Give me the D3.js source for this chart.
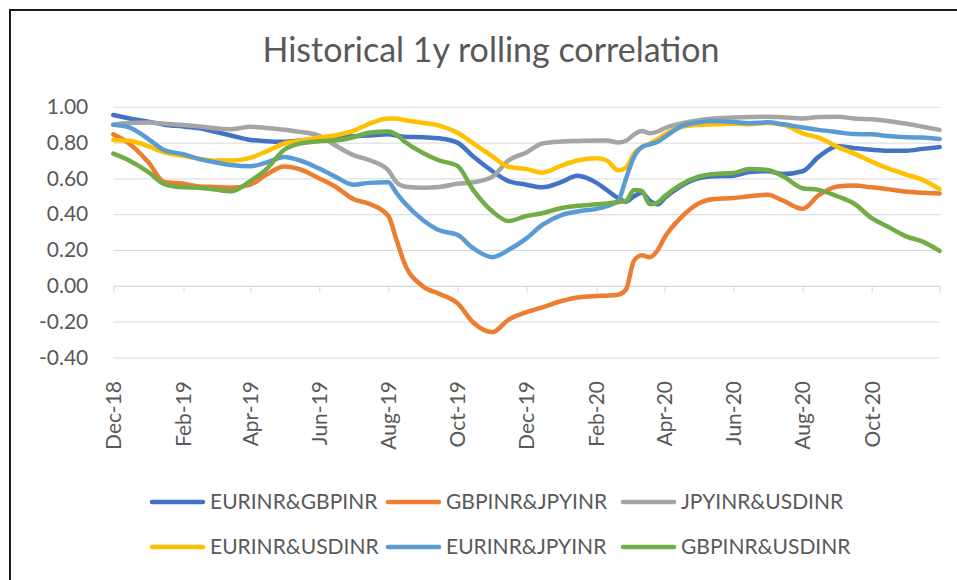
<!DOCTYPE html>
<html>
<head>
<meta charset="utf-8">
<script src="https://cdn.jsdelivr.net/npm/d3@7"></script>
<style>
  body { margin: 0; background: #fff; }
  text { font-family: Lato, "Open Sans", sans-serif; fill: #595959; }
</style>
</head>
<body>
<svg width="957" height="580"></svg>
<script>
// dates of the samples
var dates = ["2018-12-01","2018-12-15","2019-01-01","2019-01-15","2019-02-01","2019-02-15","2019-03-01","2019-03-15",
  "2019-04-01","2019-04-15","2019-05-01","2019-05-15","2019-06-01","2019-06-15","2019-07-01","2019-07-15",
  "2019-08-01","2019-08-08","2019-08-15","2019-09-01","2019-09-15","2019-10-01","2019-10-15","2019-11-01",
  "2019-11-15","2019-12-01","2019-12-15","2020-01-01","2020-01-15","2020-02-01","2020-02-10","2020-02-20",
  "2020-02-27","2020-03-05","2020-03-12","2020-03-19","2020-03-26","2020-04-01","2020-04-15","2020-05-01",
  "2020-05-15","2020-06-01","2020-06-15","2020-07-01","2020-07-15","2020-08-01","2020-08-15","2020-09-01",
  "2020-09-15","2020-10-01","2020-10-15","2020-11-01","2020-11-15","2020-11-30"];

var eurGbp = [0.954,0.935,0.917,0.90,0.89,0.88,0.86,0.84,0.815,0.808,0.805,0.812,0.82,0.832,0.835,0.84,
  0.847,0.84,0.833,0.83,0.824,0.80,0.722,0.64,0.585,0.565,0.55,0.58,0.615,0.575,0.535,0.49,
  0.47,0.50,0.52,0.475,0.455,0.49,0.555,0.60,0.612,0.615,0.635,0.64,0.625,0.64,0.72,0.78,
  0.77,0.76,0.755,0.755,0.765,0.775];
var gbpJpy = [0.846,0.795,0.69,0.58,0.57,0.555,0.552,0.548,0.565,0.62,0.666,0.65,0.60,0.555,0.485,0.458,
  0.39,0.26,0.13,-0.005,-0.045,-0.097,-0.205,-0.259,-0.19,-0.147,-0.12,-0.085,-0.065,-0.057,-0.055,-0.05,
  -0.02,0.14,0.17,0.16,0.20,0.27,0.378,0.46,0.485,0.49,0.50,0.508,0.475,0.43,0.505,0.555,
  0.56,0.55,0.54,0.525,0.52,0.515];
var jpyUsd = [0.90,0.91,0.912,0.906,0.898,0.89,0.88,0.875,0.888,0.882,0.872,0.86,0.838,0.785,0.73,0.703,
  0.645,0.58,0.555,0.548,0.552,0.57,0.578,0.61,0.70,0.745,0.795,0.806,0.809,0.812,0.812,0.80,
  0.81,0.845,0.865,0.852,0.862,0.88,0.905,0.925,0.935,0.94,0.943,0.945,0.941,0.935,0.943,0.945,
  0.935,0.93,0.921,0.905,0.889,0.871];
var eurUsd = [0.815,0.81,0.78,0.745,0.725,0.71,0.70,0.70,0.715,0.75,0.795,0.81,0.828,0.84,0.865,0.905,
  0.935,0.935,0.926,0.91,0.895,0.855,0.796,0.722,0.665,0.652,0.632,0.672,0.70,0.712,0.70,0.645,
  0.66,0.74,0.775,0.795,0.82,0.845,0.885,0.899,0.902,0.905,0.902,0.91,0.90,0.852,0.828,0.775,
  0.74,0.694,0.657,0.62,0.592,0.54];
var eurJpy = [0.90,0.885,0.82,0.758,0.735,0.708,0.69,0.675,0.668,0.688,0.72,0.70,0.655,0.61,0.565,0.575,
  0.578,0.52,0.465,0.365,0.31,0.285,0.21,0.16,0.20,0.265,0.34,0.395,0.415,0.43,0.445,0.475,
  0.60,0.72,0.775,0.79,0.805,0.83,0.889,0.913,0.921,0.915,0.908,0.913,0.902,0.884,0.871,0.858,
  0.848,0.846,0.837,0.83,0.828,0.82];
var gbpUsd = [0.738,0.70,0.635,0.568,0.55,0.548,0.538,0.528,0.585,0.65,0.76,0.795,0.808,0.812,0.83,0.855,
  0.862,0.845,0.808,0.74,0.70,0.67,0.535,0.415,0.362,0.39,0.405,0.435,0.447,0.455,0.46,0.468,
  0.475,0.535,0.53,0.455,0.465,0.50,0.564,0.61,0.625,0.63,0.653,0.647,0.61,0.545,0.536,0.499,
  0.461,0.378,0.331,0.275,0.247,0.195];

var seriesNames = ["EURINR&GBPINR","GBPINR&JPYINR","JPYINR&USDINR","EURINR&USDINR","EURINR&JPYINR","GBPINR&USDINR"];
var seriesValues = [eurGbp, gbpJpy, jpyUsd, eurUsd, eurJpy, gbpUsd];
var colors = ["#4472C4","#ED7D31","#A5A5A5","#FFC000","#5B9BD5","#70AD47"];
var yTicks = [-0.4,-0.2,0,0.2,0.4,0.6,0.8,1.0];
var xTickDates = ["2018-12-01","2019-02-01","2019-04-01","2019-06-01","2019-08-01","2019-10-01",
  "2019-12-01","2020-02-01","2020-04-01","2020-06-01","2020-08-01","2020-10-01"];

var parse = d3.timeParse("%Y-%m-%d");
var fmt = d3.timeFormat("%b-%y");
var dateObjs = dates.map(parse);
var tickObjs = xTickDates.map(parse);
var endDate = parse("2020-11-30");

var svg = d3.select("svg");

// frame
svg.append("rect")
  .attr("x", 10).attr("y", 10)
  .attr("width", 1000).attr("height", 1000)
  .attr("fill", "none").attr("stroke", "#1a1a1a").attr("stroke-width", 2);

var xScale = d3.scaleTime().domain([parse("2018-12-01"), endDate]).range([113.3, 939.6]);
var yScale = d3.scaleLinear().domain([-0.4, 1]).range([357.4, 106.8]);

// title
svg.append("text")
  .attr("x", 491).attr("y", 62)
  .attr("text-anchor", "middle")
  .style("font-size", "34px")
  .text("Historical 1y rolling correlation");

// y axis + gridlines
var yAxis = d3.axisLeft(yScale)
  .tickValues(yTicks)
  .tickSize(-(939.6 - 113.3))
  .tickPadding(25)
  .tickFormat(d => d.toFixed(2));
var yg = svg.append("g").attr("transform", "translate(113.3,0)").call(yAxis);
yg.select(".domain").remove();
yg.selectAll("line").attr("stroke", "#D9D9D9").attr("stroke-width", 1);
yg.selectAll("text").style("font-size", "21px").attr("fill", "#595959");

// x axis at zero
var y0 = yScale(0);
var xAxis = d3.axisBottom(xScale)
  .tickValues(tickObjs.concat([endDate]))
  .tickSize(7)
  .tickSizeOuter(0)
  .tickFormat(d => +d === +endDate ? "" : fmt(d));
var xg = svg.append("g").attr("transform", "translate(0," + y0 + ")").call(xAxis);
xg.select(".domain").attr("stroke", "#D9D9D9");
xg.selectAll("line").attr("stroke", "#D9D9D9");
xg.selectAll("text")
  .attr("y", 0).attr("dy", "0.35em").attr("x", 0)
  .attr("text-anchor", "end")
  .attr("transform", "translate(0," + (381 - y0) + ") rotate(-90)")
  .style("font-size", "21px").attr("fill", "#595959");

// lines
var line = d3.line()
  .x((d, i) => xScale(dateObjs[i]))
  .y(d => yScale(d))
  .curve(d3.curveMonotoneX);

svg.selectAll(".series")
  .data(seriesValues)
  .enter()
  .append("path")
  .attr("class", "series")
  .attr("d", d => line(d))
  .attr("fill", "none")
  .attr("stroke", (d, i) => colors[i])
  .attr("stroke-width", 4.5)
  .attr("stroke-linejoin", "round")
  .attr("stroke-linecap", "round");

// legend
var legX = [150, 386, 621];
var legY = [502, 547];
var leg = svg.selectAll(".leg")
  .data(seriesNames)
  .enter()
  .append("g")
  .attr("class", "leg")
  .attr("transform", (d, i) => "translate(" + legX[i % 3] + "," + legY[Math.floor(i / 3)] + ")");
leg.append("line")
  .attr("x1", 2).attr("x2", 53).attr("y1", 0).attr("y2", 0)
  .attr("stroke", (d, i) => colors[i])
  .attr("stroke-width", 4.5)
  .attr("stroke-linecap", "round");
leg.append("text")
  .attr("x", 60).attr("y", 0).attr("dy", "0.35em")
  .style("font-size", "21px")
  .text(d => d);
</script>
</body>
</html>
